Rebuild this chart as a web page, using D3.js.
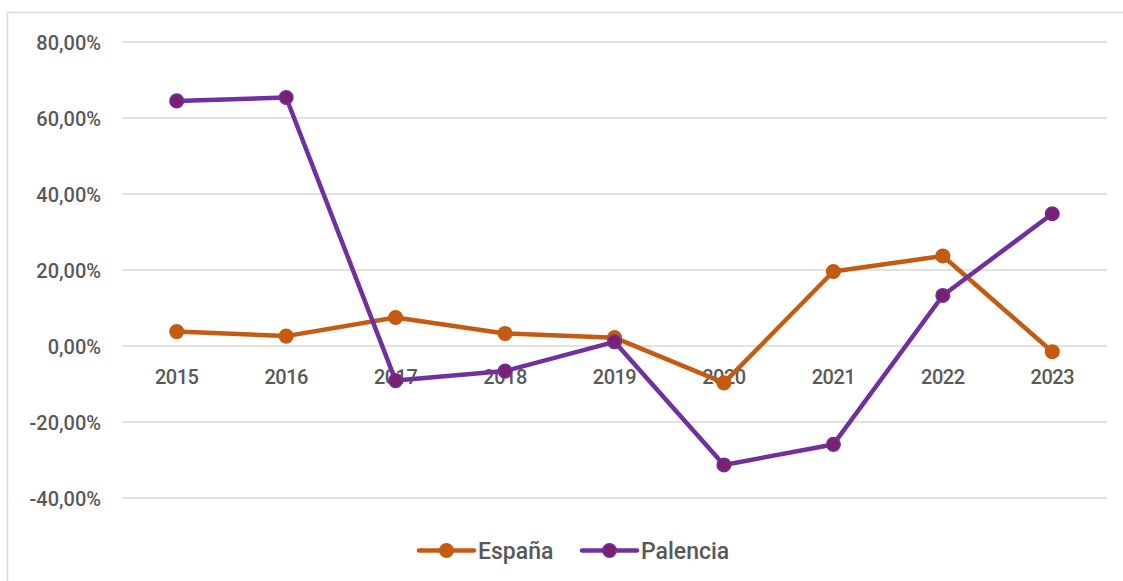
<!DOCTYPE html>
<html>
<head>
<meta charset="utf-8">
<script src="https://cdn.jsdelivr.net/npm/d3@7"></script>
<style>
  html, body { margin: 0; padding: 0; background: #fff; }
  svg { display: block; }
  text { font-family: Roboto, "DejaVu Sans", sans-serif; fill: #595959; }
</style>
</head>
<body>
<svg id="chart" width="1123" height="581"></svg>
<script>
const years = ["2015","2016","2017","2018","2019","2020","2021","2022","2023"];
const espana = [3.8, 2.6, 7.5, 3.3, 2.2, -9.7, 19.6, 23.7, -1.5];
const palencia = [64.5, 65.4, -9.1, -6.6, 1.1, -31.3, -25.9, 13.3, 34.8];
const yTicks = [-40, -20, 0, 20, 40, 60, 80];
const seriesNames = ["España", "Palencia"];
const lineColors = ["#C55A11", "#7030A0"];
const markerFills = ["#C55A11", "#7B2070"];

const svg = d3.select("#chart");

// outer border
svg.append("rect")
  .attr("x", 7.5).attr("y", 12.5)
  .attr("width", 1140).attr("height", 600)
  .attr("fill", "none").attr("stroke", "#d9d9d9").attr("stroke-width", 1.5);

const x = d3.scaleBand().domain(years).range([122, 1107]);
const y = d3.scaleLinear().domain([-40, 80]).range([498, 42]);

const fmt = v => d3.format(".2f")(v).replace("−", "-").replace(".", ",") + "%";

// gridlines
svg.append("g").selectAll("line").data(yTicks).join("line")
  .attr("x1", 122).attr("x2", 1107)
  .attr("y1", d => y(d)).attr("y2", d => y(d))
  .attr("stroke", "#d9d9d9").attr("stroke-width", 1.5);

// y axis labels
const yAxis = d3.axisLeft(y).tickValues(yTicks).tickFormat(fmt).tickSize(0).tickPadding(0);
const yg = svg.append("g").attr("transform", "translate(101,0)").call(yAxis);
yg.select(".domain").remove();
yg.selectAll("text").attr("font-size", 20).attr("fill", "#595959")
  .attr("font-weight", 500)
  .style("font-family", "Roboto, sans-serif").attr("dy", "0.36em").attr("x", 0);

// x axis labels at zero line
const xAxis = d3.axisBottom(x).tickSize(0).tickPadding(0);
const xg = svg.append("g").attr("transform", `translate(0,${y(0)})`).call(xAxis);
xg.select(".domain").remove();
xg.selectAll("text").attr("font-size", 20).attr("fill", "#595959")
  .attr("font-weight", 500).attr("letter-spacing", "-0.5px")
  .style("font-family", "Roboto, sans-serif").attr("y", 38).attr("dy", 0);

const allSeries = [espana, palencia];
const line = d3.line().x((d, i) => x(years[i]) + x.bandwidth() / 2).y(d => y(d));

allSeries.forEach((data, s) => {
  const g = svg.append("g");
  g.append("path").datum(data)
    .attr("d", line)
    .attr("fill", "none")
    .attr("stroke", lineColors[s])
    .attr("stroke-width", 4.5)
    .attr("stroke-linejoin", "round")
    .attr("stroke-linecap", "round");
  g.selectAll("circle").data(data).join("circle")
    .attr("cx", (d, i) => x(years[i]) + x.bandwidth() / 2)
    .attr("cy", d => y(d))
    .attr("r", 6.8)
    .attr("fill", markerFills[s])
    .attr("stroke", lineColors[s])
    .attr("stroke-width", 1.5);
});

// legend
const legendItems = [
  { name: seriesNames[0], x0: 419 },
  { name: seriesNames[1], x0: 582 }
];
const ly = 550.5;
legendItems.forEach((it, s) => {
  const g = svg.append("g");
  g.append("line")
    .attr("x1", it.x0).attr("x2", it.x0 + 55)
    .attr("y1", ly).attr("y2", ly)
    .attr("stroke", lineColors[s]).attr("stroke-width", 4.5)
    .attr("stroke-linecap", "round");
  g.append("circle")
    .attr("cx", it.x0 + 27.5).attr("cy", ly).attr("r", 6.8)
    .attr("fill", markerFills[s]).attr("stroke", lineColors[s]).attr("stroke-width", 1.5);
  g.append("text")
    .attr("x", it.x0 + 59).attr("y", ly)
    .attr("dy", "0.36em")
    .attr("font-size", 23)
    .attr("font-weight", 500)
    .text(it.name);
});
</script>
</body>
</html>
